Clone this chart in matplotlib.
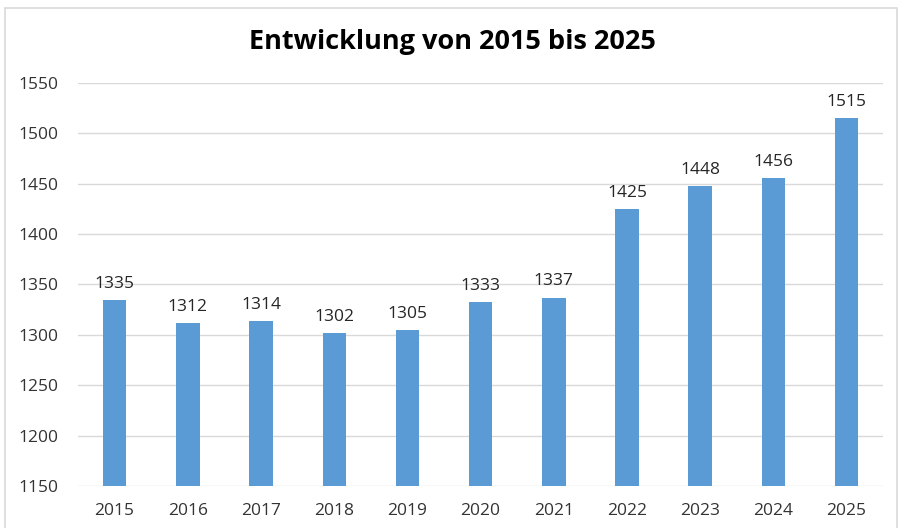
import matplotlib.pyplot as plt
from matplotlib.patches import Rectangle

years = ['2015', '2016', '2017', '2018', '2019', '2020', '2021', '2022', '2023', '2024', '2025']
values = [1335, 1312, 1314, 1302, 1305, 1333, 1337, 1425, 1448, 1456, 1515]

plt.rcParams['font.family'] = ['Open Sans', 'DejaVu Sans']

fig = plt.figure(figsize=(9.04, 5.28), dpi=100)
ax = fig.add_axes([0.0863, 0.0795, 0.8907, 0.7635])

# chart frame
fig.patches.append(Rectangle((5 / 904, -0.01), 892 / 904, 1 - 8 / 528 + 0.01,
                             transform=fig.transFigure, fill=False,
                             edgecolor='#D9D9D9', linewidth=1.2))

x = range(len(years))
ax.bar(x, values, width=0.32, color='#5B9BD5', zorder=3)
for xi, v in zip(x, values):
    ax.text(xi, v + 8, str(v), ha='center', va='bottom', fontsize=12.5, color='#262626')

ax.set_ylim(1150, 1550)
ax.set_xlim(-0.5, len(years) - 0.5)
ax.set_yticks(range(1150, 1551, 50))
ax.set_xticks(list(x))
ax.set_xticklabels(years)
ax.grid(axis='y', color='#D9D9D9', linewidth=1, zorder=0)
for s in ax.spines.values():
    s.set_visible(False)
ax.tick_params(length=0, labelsize=12.5, colors='#333333')
ax.tick_params(axis='x', pad=12)
ax.tick_params(axis='y', pad=14)

fig.suptitle('Entwicklung von 2015 bis 2025', x=0.5, y=1 - 42 / 528, va='center',
             fontsize=19.5, fontweight='bold', color='black')

fig.savefig('out.png', dpi=100)
